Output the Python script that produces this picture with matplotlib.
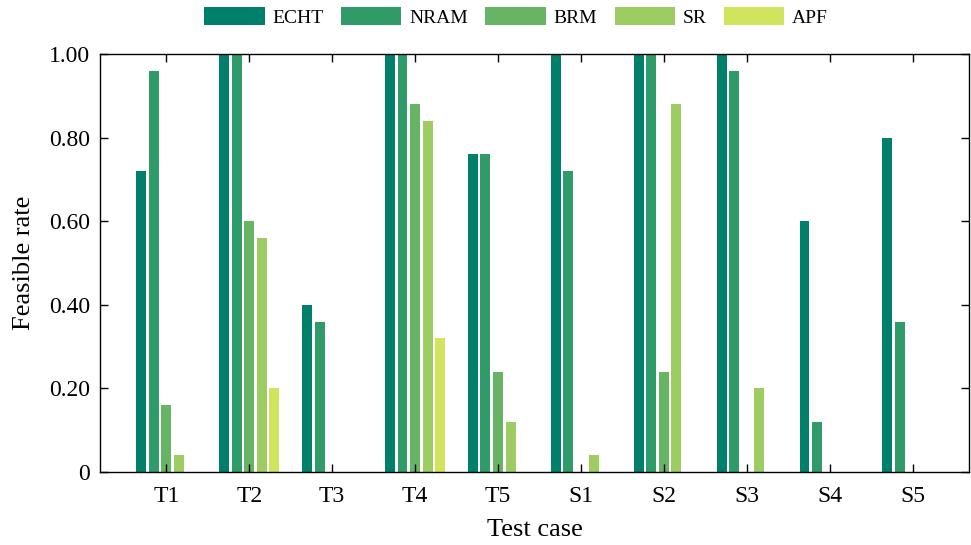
import matplotlib.pyplot as plt
import numpy as np

plt.rcParams["font.family"] = ["Liberation Serif", "DejaVu Serif"]

cases = ["T1", "T2", "T3", "T4", "T5", "S1", "S2", "S3", "S4", "S5"]
methods = ["ECHT", "NRAM", "BRM", "SR", "APF"]

echt = [0.72, 1.00, 0.40, 1.00, 0.76, 1.00, 1.00, 1.00, 0.60, 0.80]
nram = [0.96, 1.00, 0.36, 1.00, 0.76, 0.72, 1.00, 0.96, 0.12, 0.36]
brm = [0.16, 0.60, 0.00, 0.88, 0.24, 0.00, 0.24, 0.00, 0.00, 0.00]
sr = [0.04, 0.56, 0.00, 0.84, 0.12, 0.04, 0.88, 0.20, 0.00, 0.00]
apf = [0.00, 0.20, 0.00, 0.32, 0.00, 0.00, 0.00, 0.00, 0.00, 0.00]

colors = ["#00806a", "#2f9b69", "#66b464", "#9ccc62", "#d0e45e"]

fig = plt.figure(figsize=(9.71, 5.45), dpi=100)
ax = fig.add_axes([100 / 971, 1 - 472 / 545, 869 / 971, 418 / 545])

x = np.arange(len(cases))
width = 0.12
pitch = 0.152
for i, (name, vals, c) in enumerate(zip(methods, [echt, nram, brm, sr, apf], colors)):
    ax.bar(x + (i - 2) * pitch, vals, width, color=c, label=name)

ax.set_xlim(-0.8, 9.68)
ax.set_ylim(0, 1.0)
ax.set_xticks(x)
ax.set_xticklabels(cases)
ax.set_yticks([0, 0.2, 0.4, 0.6, 0.8, 1.0])
ax.set_yticklabels(["0", "0.20", "0.40", "0.60", "0.80", "1.00"])
ax.tick_params(direction="in", top=True, right=True, length=6, width=1,
               labelsize=17)
ax.tick_params(axis="x", pad=10)
ax.tick_params(axis="y", pad=7)
for s in ax.spines.values():
    s.set_linewidth(1)

ax.set_xlabel("Test case", fontsize=19)
ax.set_ylabel("Feasible rate", fontsize=19)
ax.xaxis.set_label_coords(0.5, (472 - 530) / 418)
ax.yaxis.set_label_coords((24 - 100) / 869, 0.5)
ax.xaxis.label.set_va("center")
ax.yaxis.label.set_va("center")

ax.legend(loc="center", bbox_to_anchor=(0.479, 1 + 37 / 418), ncol=5, frameon=False,
          fontsize=14, handlelength=3.1, handleheight=1.0, columnspacing=0.9,
          handletextpad=0.4, borderaxespad=0)

fig.savefig("out.png", dpi=100)
